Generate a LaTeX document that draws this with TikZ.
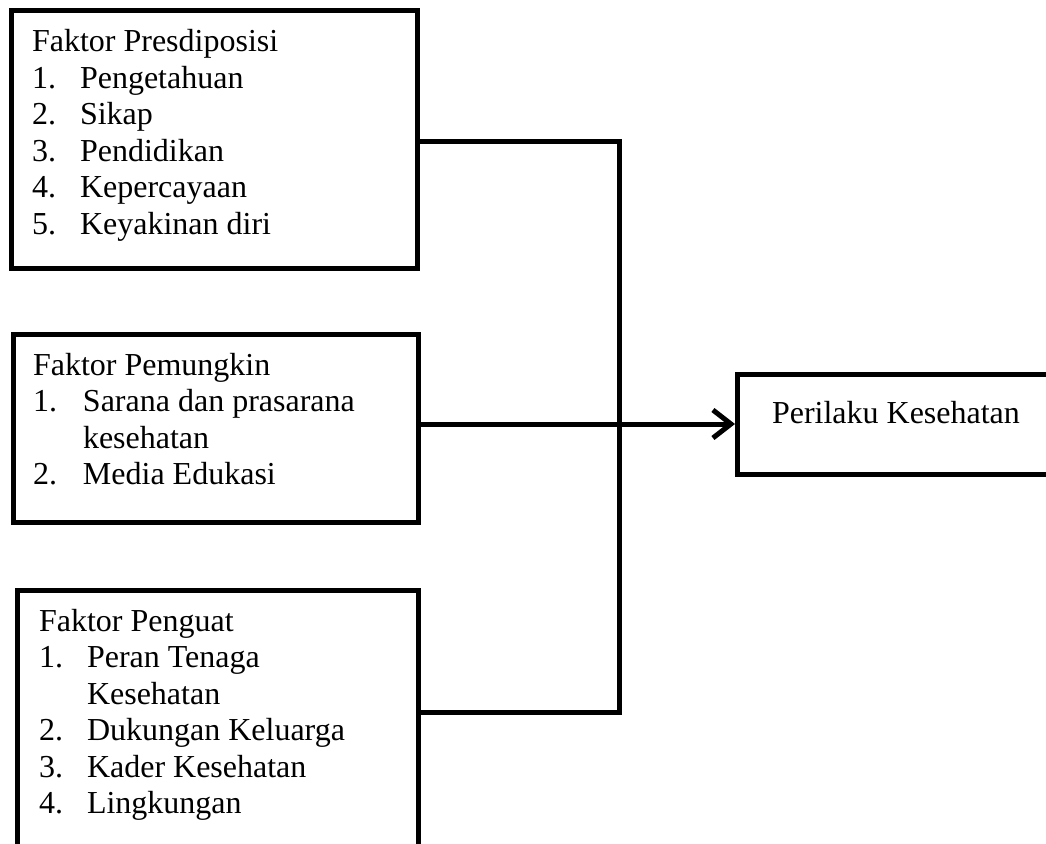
\documentclass[tikz,border=0pt]{standalone}
\usepackage{fontspec}
\setmainfont{Liberation Serif}
\usetikzlibrary{arrows.meta}
\tikzset{
  box/.style={draw, line width=5pt, rectangle, outer sep=0pt, inner sep=0pt, anchor=north west},
  txt/.style={inner sep=0pt, outer sep=0pt, anchor=base west, font=\fontsize{32}{36.5}\selectfont},
  conn/.style={line width=5pt},
  arr/.style={conn, -{Straight Barb[length=18pt,width=28pt]}, shorten >=2pt}
}
\begin{document}
\begin{tikzpicture}[x=1pt,y=-1pt]
\useasboundingbox (0,0) rectangle (1046,843);
\clip (0,0) rectangle (1046,843);
\node[box, minimum width=406pt, minimum height=257pt] (b1) at (11,11) {};
\node[box, minimum width=405pt, minimum height=188pt] (b2) at (13,334) {};
\node[box, minimum width=401pt, minimum height=300pt] (b3) at (17,590) {};
\node[box, minimum width=400pt, minimum height=100pt] (b4) at (737,374) {};
\node[txt] (t1) at (32,52) {\begin{tabular}[t]{@{}p{48pt}@{}l@{}}
\multicolumn{2}{@{}l@{}}{Faktor Presdiposisi}\\
1. & Pengetahuan\\
2. & Sikap\\
3. & Pendidikan\\
4. & Kepercayaan\\
5. & Keyakinan diri
\end{tabular}};
\node[txt] (t2) at (33,375) {\begin{tabular}[t]{@{}p{50pt}@{}l@{}}
\multicolumn{2}{@{}l@{}}{Faktor Pemungkin}\\
1. & Sarana dan prasarana\\
   & kesehatan\\
2. & Media Edukasi
\end{tabular}};
\node[txt] (t3) at (39,631) {\begin{tabular}[t]{@{}p{48pt}@{}l@{}}
\multicolumn{2}{@{}l@{}}{Faktor Penguat}\\
1. & Peran Tenaga\\
   & Kesehatan\\
2. & Dukungan Keluarga\\
3. & Kader Kesehatan\\
4. & Lingkungan
\end{tabular}};
\node[txt] (t4) at (772,423) {Perilaku Kesehatan};
\coordinate (jt) at (619,141);
\coordinate (jb) at (619,712);
\draw[conn] (b1.east |- jt) -- (jt) -- (jb) -- (b3.east |- jb);
\draw[arr] (b2.east |- b4.west) -- (b4.west);
\end{tikzpicture}
\end{document}
